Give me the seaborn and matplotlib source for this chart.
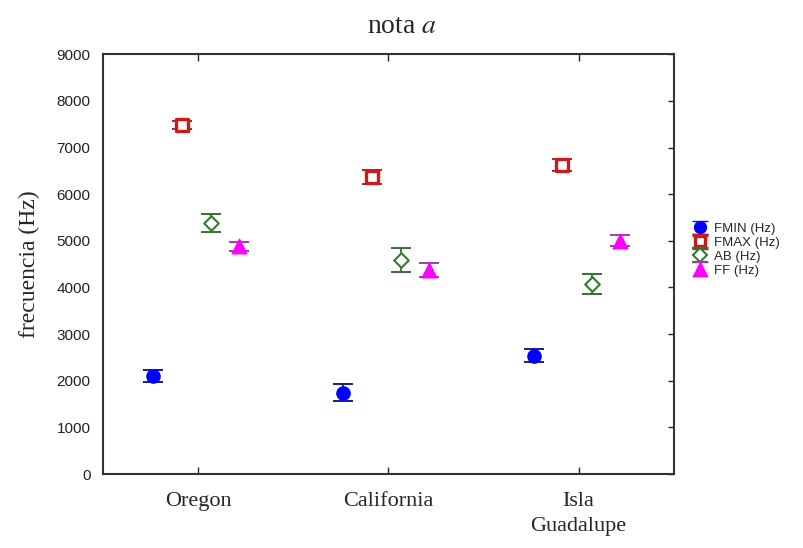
import numpy as np
import pandas as pd
import matplotlib
matplotlib.use("Agg")
import matplotlib.pyplot as plt
import seaborn as sns

# data (means and half-width of error bars, Hz)
locations = ["Oregon", "California", "Isla\nGuadalupe"]
series = ["FMIN (Hz)", "FMAX (Hz)", "AB (Hz)", "FF (Hz)"]
fmin = [2100, 1740, 2540]
fmin_err = [120, 180, 130]
fmax = [7480, 6360, 6620]
fmax_err = [90, 150, 130]
ab = [5380, 4590, 4080]
ab_err = [190, 260, 210]
ff = [4880, 4370, 5000]
ff_err = [100, 150, 120]
yticks = list(range(0, 9001, 1000))

values = [fmin, fmax, ab, ff]
errors = [fmin_err, fmax_err, ab_err, ff_err]
offsets = [-0.237, -0.085, 0.068, 0.215]  # dodge inside each category

rows = []
for name, vals, errs, off in zip(series, values, errors, offsets):
    for i, (v, e) in enumerate(zip(vals, errs)):
        rows.append({"serie": name, "lugar": locations[i], "pos": i + off, "valor": v, "err": e})
df = pd.DataFrame(rows)

sns.set_theme(style="white")
plt.rcParams["font.family"] = ["Liberation Sans", "DejaVu Sans"]
plt.rcParams["mathtext.fontset"] = "stix"

fig = plt.figure(figsize=(8.04, 5.48), dpi=100)
ax = fig.add_axes([0.128, 0.135, 0.710, 0.766])

styles = {
    "FMIN (Hz)": dict(marker="o", face="#0000ff", edge="#0000ff", bar="#1a1a8c", s=90, lw=1.0),
    "FMAX (Hz)": dict(marker="s", face="white", edge="#cc1a1a", bar="#b22222", s=75, lw=2.4),
    "AB (Hz)": dict(marker="D", face="white", edge="#2e7d2e", bar="#3a6b3a", s=55, lw=1.5),
    "FF (Hz)": dict(marker="^", face="#ff00ff", edge="#ff00ff", bar="#a83aa8", s=110, lw=1.0),
}

handles = []
for name in series:
    st = styles[name]
    sub = df[df["serie"] == name]
    ax.errorbar(sub["pos"], sub["valor"], yerr=sub["err"], fmt="none", ecolor=st["bar"],
                elinewidth=1.3, capsize=7, capthick=1.4, zorder=2)
    sns.scatterplot(data=sub, x="pos", y="valor", marker=st["marker"], s=st["s"],
                    color=st["face"], edgecolor=st["edge"], linewidth=st["lw"],
                    ax=ax, zorder=3, legend=False)
    h = ax.errorbar([np.nan], [np.nan], yerr=[1], fmt=st["marker"], ms=np.sqrt(st["s"]) * 0.9,
                    mfc=st["face"], mec=st["edge"], mew=st["lw"], ecolor=st["bar"],
                    elinewidth=1.3, capsize=6, capthick=1.4)
    handles.append(h)

ax.set_xlim(-0.5, 2.5)
ax.set_ylim(0, 9000)
ax.set_xticks(range(len(locations)))
ax.set_xticklabels(locations, family="Liberation Serif", fontsize=16, linespacing=1.45)
ax.set_yticks(yticks)
ax.set_yticklabels([str(t) for t in yticks], fontsize=11, color="#222222")
ax.tick_params(axis="x", bottom=True, top=True, direction="in", length=5, width=1, pad=13)
ax.tick_params(axis="y", left=False, right=True, direction="in", length=4, width=1, pad=9)
ax.set_xlabel("")
ax.set_ylabel("frecuencia (Hz)", family="Liberation Serif", fontsize=17, labelpad=12)
for sp in ax.spines.values():
    sp.set_color("#333333")
    sp.set_linewidth(1.5)

fig.text(0.5, 0.952, "nota $a$", ha="center", va="center", family="Liberation Serif", fontsize=20)

fig.legend(handles, series, loc="upper left", bbox_to_anchor=(0.854, 0.603), frameon=False,
           fontsize=9.5, handlelength=1.3, handletextpad=0.4, labelspacing=0.12, borderaxespad=0)

fig.savefig("out.png", dpi=100)
